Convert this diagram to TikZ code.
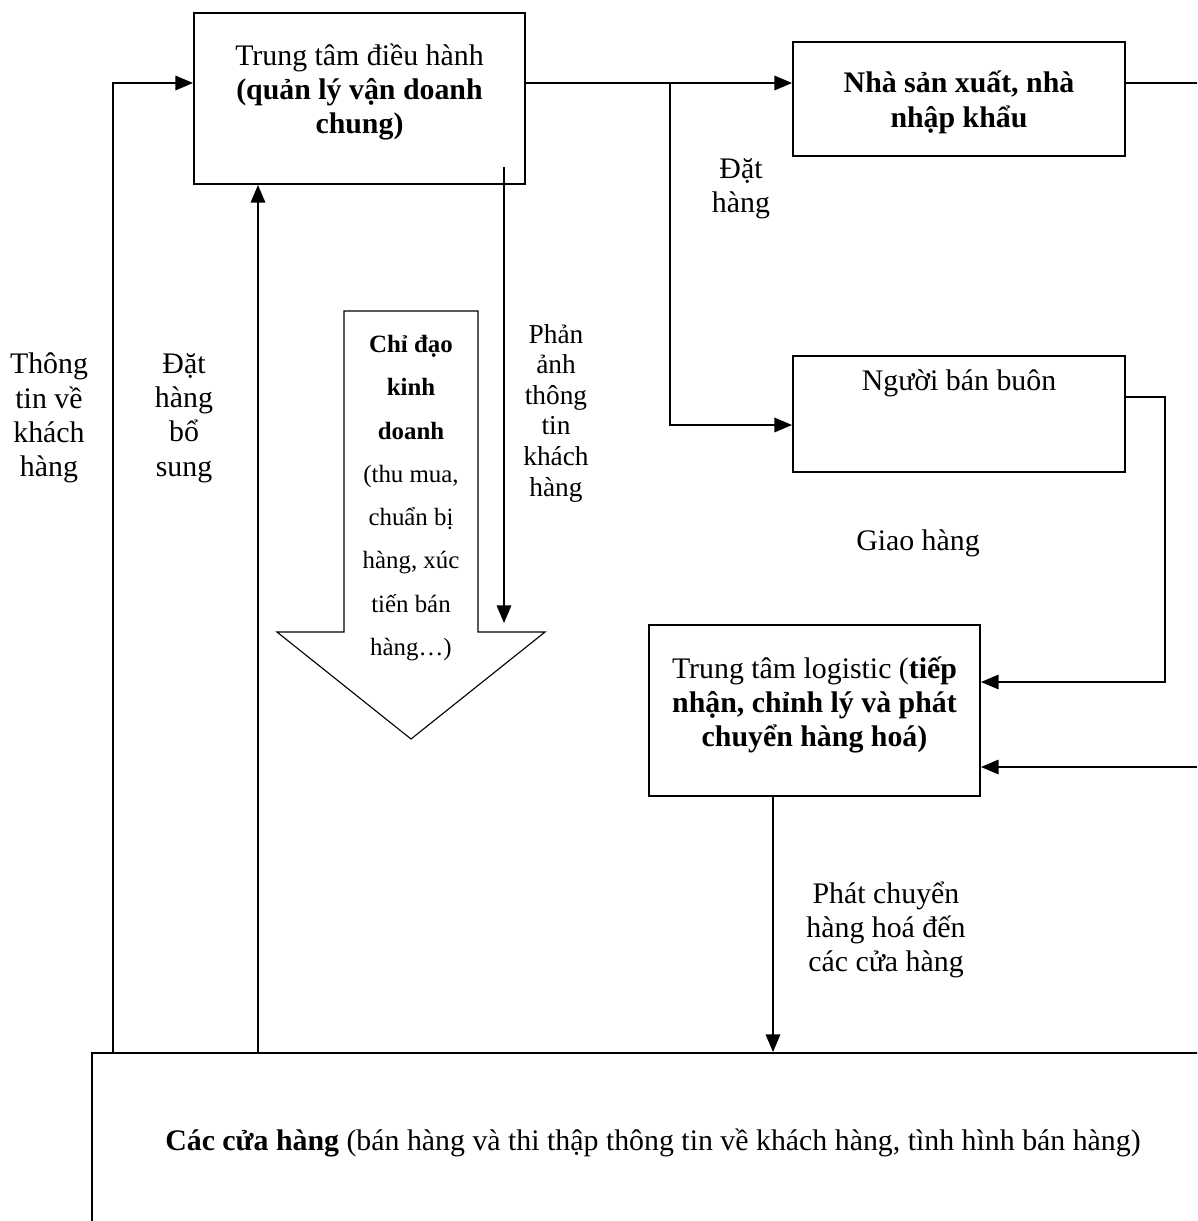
\documentclass[tikz,border=0pt]{standalone}
\usepackage{fontspec}
\setmainfont{Liberation Serif}
\usepackage{tikz}
\usetikzlibrary{arrows, positioning}
\tikzstyle{box} = [rectangle, draw=black, line width=0.8pt, align=center, font=\fontsize{12}{13.8}\selectfont]
\tikzstyle{note} = [align=center, font=\fontsize{12}{13.8}\selectfont]
\tikzstyle{arrow} = [line width=0.6pt,->,>=triangle 45]

\begin{document}
\begin{tikzpicture}[x=0.402pt, y=-0.402pt]
\useasboundingbox (0,0) rectangle (1197,1221);
\clip (0,0) rectangle (1197,1221);

\node (ttdh) [box, minimum width=331*0.402pt, minimum height=171*0.402pt, text depth=7.8pt] at (359.5,98.5) {Trung tâm điều hành\\\textbf{(quản lý vận doanh}\\\textbf{chung)}};
\node (nsx) [box, minimum width=332*0.402pt, minimum height=114*0.402pt, text depth=0pt] at (959,99) {\textbf{Nhà sản xuất, nhà}\\\textbf{nhập khẩu}};
\node (nbb) [box, minimum width=332*0.402pt, minimum height=116*0.402pt, below=79.5pt of nsx, label={[note, anchor=north, yshift=-2.5pt]north:Người bán buôn}] {};
\node (logistic) [box, minimum width=331*0.402pt, minimum height=171*0.402pt, text depth=7pt] at (814.5,710.5) {Trung tâm logistic (\textbf{tiếp}\\\textbf{nhận, chỉnh lý và phát}\\\textbf{chuyển hàng hoá)}};
\node (cuahang) [box, minimum width=1122*0.402pt, minimum height=180*0.402pt] at (653,1143) {\textbf{Các cửa hàng} (bán hàng và thi thập thông tin về khách hàng, tình hình bán hàng)};

% labels
\node (thongtin) [note] at (49,418) {Thông\\tin về\\khách\\hàng};
\node (bosung) [note] at (184,418) {Đặt\\hàng\\bổ\\sung};
\node (phananh) [note, font=\fontsize{11}{12.3}\selectfont] at (556,413) {Phản\\ảnh\\thông\\tin\\khách\\hàng};
\node (dathang) [note] at (741,189) {Đặt\\hàng};
\node (giaohang) [note] at (918,543) {Giao hàng};
\node (phatchuyen) [note] at (886,930) {Phát chuyển\\hàng hoá đến\\các cửa hàng};

% big down arrow
\draw [line width=0.45pt] (344,311) -- (478,311) -- (478,632) -- (545,632) -- (411,739) -- (277,632) -- (344,632) -- cycle;
\node (chidao) [note, font=\fontsize{10}{17.4}\selectfont] at (411,498) {\textbf{Chỉ đạo}\\\textbf{kinh}\\\textbf{doanh}\\(thu mua,\\chuẩn bị\\hàng, xúc\\tiến bán\\hàng…)};

\coordinate (split) at (670,83);
\coordinate (edgetop) at (1197,83);
\coordinate (edgemid) at (1197,767);
\coordinate (turn) at (1165,682);
\coordinate (fbtop) at (504,167);
\coordinate (fbend) at (504,623);

\draw [arrow] (ttdh.east |- split) -- (nsx.west |- split);
\draw [arrow] (split) |- (nbb.west |- 0,425);
\draw [line width=0.6pt] (nsx.east |- split) -- (edgetop);
\draw [arrow] (nbb.east |- 0,397) -| (turn) -- (logistic.east |- turn);
\draw [arrow] (edgemid) -- (logistic.east |- edgemid);
\draw [arrow] (logistic.south -| 773,0) -- (cuahang.north -| 773,0);
\draw [arrow] (cuahang.north -| 113,0) |- (ttdh.west |- split);
\draw [arrow] (cuahang.north -| 258,0) -- (ttdh.south -| 258,0);
\draw [arrow] (fbtop) -- (fbend);

\end{tikzpicture}
\end{document}
